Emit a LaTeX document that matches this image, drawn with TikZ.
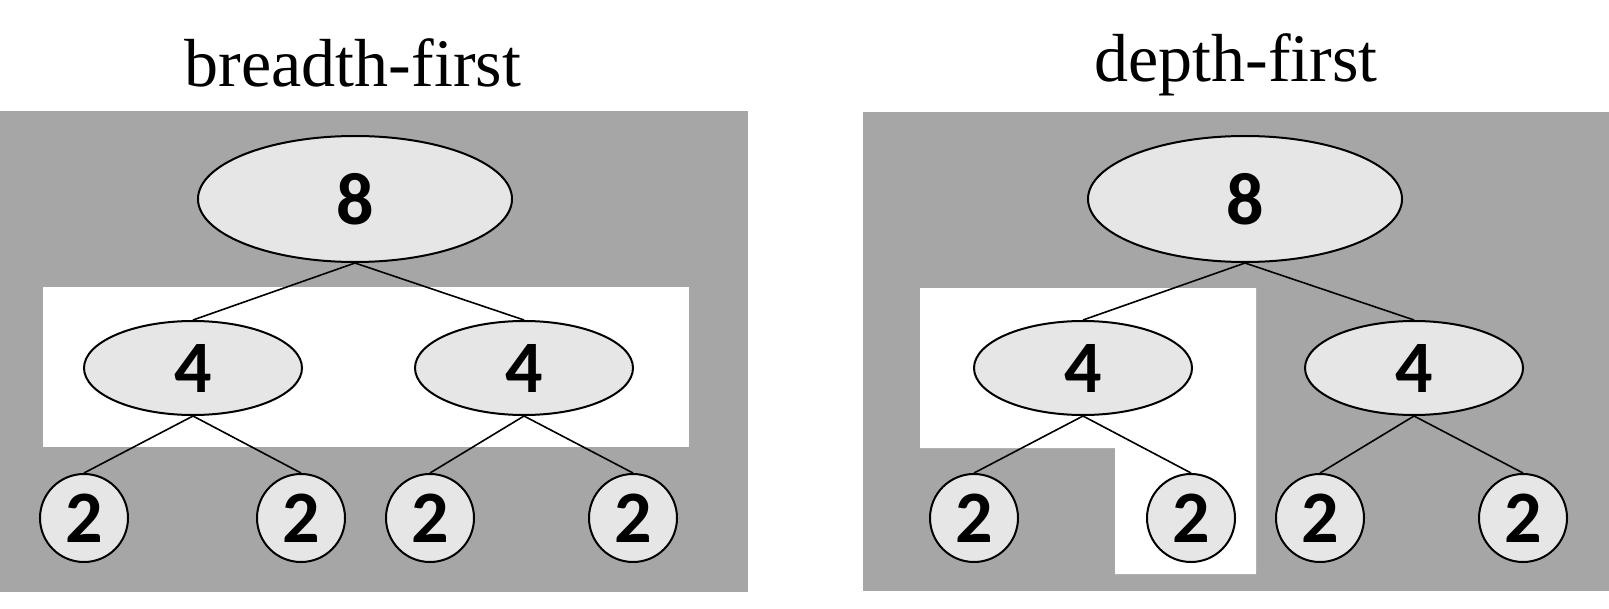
\documentclass[tikz,border=0pt]{standalone}
\usepackage{fontspec}
\setmainfont{Liberation Serif}
\newfontfamily\numfont{Carlito}
\usetikzlibrary{shapes.geometric}
\definecolor{bggray}{RGB}{166,166,166}
\definecolor{nodefill}{RGB}{230,230,230}
\tikzset{
  rootnode/.style={ellipse,draw=black,fill=nodefill,line width=1pt,inner sep=0pt,minimum width=157pt,minimum height=63pt,font=\numfont\fontsize{37}{40}\selectfont\bfseries},
  midnode/.style={ellipse,draw=black,fill=nodefill,line width=1pt,inner sep=0pt,minimum width=109pt,minimum height=47pt,font=\numfont\fontsize{37}{40}\selectfont\bfseries},
  leafnode/.style={circle,draw=black,fill=nodefill,line width=1pt,inner sep=0pt,minimum size=44pt,font=\numfont\fontsize{37}{40}\selectfont\bfseries},
  edge/.style={draw=black,line width=0.8pt},
  titlelabel/.style={anchor=base,inner sep=0pt,font=\fontsize{34}{40}\selectfont}
}
\begin{document}
\begin{tikzpicture}[x=0.5pt,y=-0.5pt]
\useasboundingbox (0,0) rectangle (1609,609);
% backgrounds
\fill[bggray] (0,111) rectangle (748,592);
\fill[white] (43,287) rectangle (689,447);
\fill[bggray] (863,112) rectangle (1609,591);
\fill[white] (920,288) -- (1256,288) -- (1256,574) -- (1115,574) -- (1115,448) -- (920,448) -- cycle;
% titles
\node[titlelabel] (t1) at (353,87) {breadth-first};
\node[titlelabel] (t2) at (1236,82) {depth-first};
% left tree
\node[rootnode] (r1) at (355,199) {8};
\node[midnode] (a1) at (193,368) {4};
\node[midnode] (b1) at (524,368) {4};
\node[leafnode] (c1) at (84,518) {2};
\node[leafnode] (d1) at (301,518) {2};
\node[leafnode] (e1) at (430,518) {2};
\node[leafnode] (f1) at (633,518) {2};
% right tree
\node[rootnode] (r2) at (1245,199) {8};
\node[midnode] (a2) at (1083,368) {4};
\node[midnode] (b2) at (1414,368) {4};
\node[leafnode] (c2) at (974,518) {2};
\node[leafnode] (d2) at (1191,518) {2};
\node[leafnode] (e2) at (1320,518) {2};
\node[leafnode] (f2) at (1523,518) {2};
% edges
\foreach \p/\c in {r1/a1,r1/b1,a1/c1,a1/d1,b1/e1,b1/f1,r2/a2,r2/b2,a2/c2,a2/d2,b2/e2,b2/f2}
  \draw[edge] (\p.south) -- (\c.north);
\end{tikzpicture}
\end{document}
